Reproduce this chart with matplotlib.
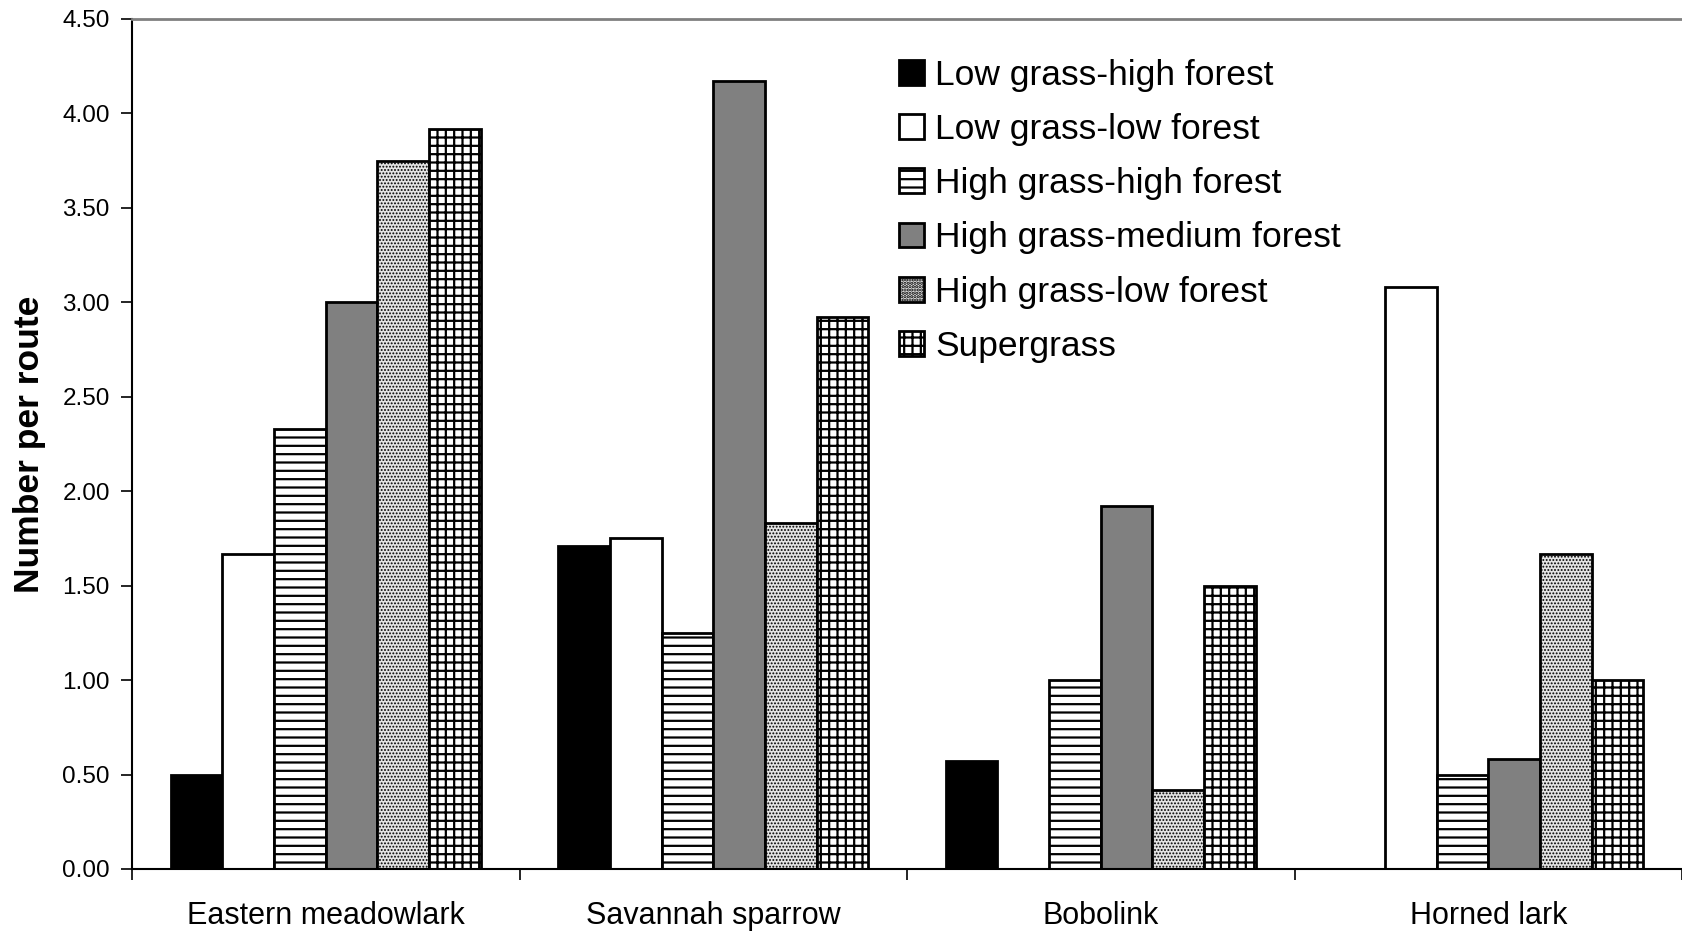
import matplotlib.pyplot as plt
import numpy as np

plt.rcParams['font.family'] = ['Liberation Sans', 'DejaVu Sans']
plt.rcParams['hatch.linewidth'] = 1.6

species = ["Eastern meadowlark", "Savannah sparrow", "Bobolink", "Horned lark"]
habitats = ["Low grass-high forest", "Low grass-low forest",
            "High grass-high forest", "High grass-medium forest",
            "High grass-low forest", "Supergrass"]

# number per route, one list per habitat (order follows species)
low_high = [0.50, 1.71, 0.57, 0.00]
low_low = [1.67, 1.75, 0.00, 3.08]
high_high = [2.33, 1.25, 1.00, 0.50]
high_med = [3.00, 4.17, 1.92, 0.58]
high_low = [3.75, 1.83, 0.42, 1.67]
supergrass = [3.92, 2.92, 1.50, 1.00]

series = [low_high, low_low, high_high, high_med, high_low, supergrass]
faces = ['black', 'white', 'white', '#808080', '#e4e4e4', 'white']
hatches = [None, None, '--', None, '.....', '++']
hatch_lw = [1.6, 1.6, 1.6, 1.6, 0.9, 1.6]

fig = plt.figure(figsize=(16.82, 9.31), dpi=100)
ax = fig.add_axes([0.0785, 0.0666, 0.9215, 0.913])

n = len(series)
width = 0.8 / n
x = np.arange(len(species))
for i, vals in enumerate(series):
    pos = x + 0.1 + width * (i + 0.5)
    vals = np.array(vals)
    keep = vals > 0
    with plt.rc_context({'hatch.linewidth': hatch_lw[i]}):
        ax.bar(pos[keep], vals[keep], width=width, color=faces[i],
               edgecolor='black', linewidth=2, hatch=hatches[i],
               label=habitats[i], align='center')

ax.set_xlim(0, len(species))
ax.set_ylim(0, 4.5)
ax.set_yticks(np.arange(0, 4.51, 0.5))
ax.set_yticklabels(['%.2f' % v for v in np.arange(0, 4.51, 0.5)])
ax.set_xticks(np.arange(0, len(species) + 1))
ax.set_xticklabels([])
ax.set_xticks(x + 0.5, minor=True)
ax.set_xticklabels(species, minor=True, fontsize=22)
ax.tick_params(axis='x', which='minor', length=0, pad=23)
ax.tick_params(axis='x', which='major', length=8, width=1.2, direction='out')
ax.tick_params(axis='y', length=8, width=1.2, pad=8, labelsize=17.5)

ax.spines['right'].set_visible(False)
ax.spines['top'].set_color('#808080')
ax.spines['top'].set_linewidth(2)
ax.spines['left'].set_linewidth(1.5)
ax.spines['bottom'].set_linewidth(1.5)

ax.set_ylabel('Number per route', fontsize=25.5, fontweight='bold', labelpad=12)

leg = ax.legend(loc='upper left', bbox_to_anchor=(0.486, 0.97), frameon=False,
                fontsize=25.5, handlelength=0.7, handleheight=0.7,
                handletextpad=0.3, labelspacing=0.6, borderaxespad=0)

fig.savefig('out.png', dpi=100)
